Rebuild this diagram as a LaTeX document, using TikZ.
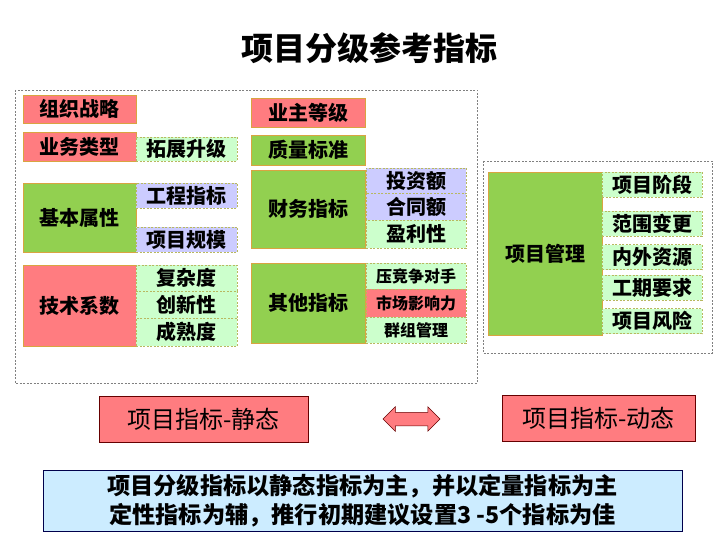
\documentclass[tikz,border=0pt]{standalone}
\usepackage{fontspec}
\newfontfamily\cjk{Noto Sans CJK SC}
\usetikzlibrary{shapes.arrows}

\definecolor{redbox}{HTML}{FF7C80}
\definecolor{greenbox}{HTML}{92D050}
\definecolor{lightgreen}{HTML}{CCFFCC}
\definecolor{lavender}{HTML}{CCCCFF}
\definecolor{mainedge}{HTML}{D9A441}
\definecolor{subedge}{HTML}{B8B860}
\definecolor{noteblue}{HTML}{CCECFF}

\begin{document}
\begin{tikzpicture}[x=1pt,y=-1pt,
    main/.style={draw=mainedge, line width=0.6pt, inner sep=0pt,
        font=\cjk\bfseries\fontsize{20}{24}\selectfont},
    sub/.style={draw=subedge, line width=0.6pt, dash pattern=on 2pt off 1.5pt,
        inner sep=0pt, font=\cjk\bfseries\fontsize{20}{24}\selectfont},
    small/.style={font=\cjk\bfseries\fontsize{16}{19}\selectfont},
    colA/.style={minimum width=113pt},
    colB/.style={minimum width=101pt},
    colC/.style={minimum width=114pt},
    colD/.style={minimum width=100pt},
    frame/.style={draw=gray, line width=0.8pt, dash pattern=on 2pt off 1.5pt},
    kind/.style={draw=red!40!black, line width=0.6pt, fill=redbox, inner sep=0pt,
        minimum height=46pt, font=\cjk\fontsize{24}{28}\selectfont}
    ]
    \useasboundingbox (0,0) rectangle (720,540);

    \node (title) at (369.5,48) {\cjk\bfseries\fontsize{32}{38}\selectfont 项目分级参考指标};

    % static part
    \draw[frame] (15,90) rectangle (477,383);

    \node[main, colA, fill=redbox,   minimum height=28pt] (org)   at (79.5,109)   {组织战略};
    \node[main, colA, fill=redbox,   minimum height=29pt] (biz)   at (79.5,146.5) {业务类型};
    \node[main, colA, fill=greenbox, minimum height=69pt] (basic) at (79.5,217.5) {基本属性};
    \node[main, colA, fill=redbox,   minimum height=81pt] (tech)  at (79.5,305.5) {技术系数};

    \node[sub, colB, fill=lightgreen, minimum height=24pt] (expand) at (186.5,149)   {拓展升级};
    \node[sub, colB, fill=lavender,   minimum height=25pt] (eng)    at (186.5,195.5) {工程指标};
    \node[sub, colB, fill=lavender,   minimum height=25pt] (scale)  at (186.5,239.5) {项目规模};
    \node[sub, colB, fill=lightgreen, minimum height=26pt] (cplx)   at (186.5,278)   {复杂度};
    \node[sub, colB, fill=lightgreen, minimum height=27pt] (innov)  at (186.5,304.5) {创新性};
    \node[sub, colB, fill=lightgreen, minimum height=28pt] (mature) at (186.5,332)   {成熟度};

    \node[main, colC, fill=redbox,   minimum height=29pt] (owner)   at (308,112.5) {业主等级};
    \node[main, colC, fill=greenbox, minimum height=30pt] (quality) at (308,150)   {质量标准};
    \node[main, colC, fill=greenbox, minimum height=78pt] (fin)     at (308,209)   {财务指标};
    \node[main, colC, fill=greenbox, minimum height=80pt] (other)   at (308,303)   {其他指标};

    \node[sub, colD, fill=lavender,   minimum height=25pt] (invest)   at (416,180.5) {投资额};
    \node[sub, colD, fill=lavender,   minimum height=27pt] (contract) at (416,206.5) {合同额};
    \node[sub, colD, fill=lightgreen, minimum height=28pt] (profit)   at (416,234)   {盈利性};
    \node[sub, small, colD, fill=lightgreen, minimum height=26pt] (rival)  at (416,276) {压竞争对手};
    \node[sub, small, colD, fill=redbox,     minimum height=28pt] (market) at (416,303) {市场影响力};
    \node[sub, small, colD, fill=lightgreen, minimum height=26pt] (group)  at (416,330) {群组管理};

    % dynamic part
    \draw[frame] (483,161) rectangle (712,353);

    \node[main, colC, fill=greenbox, minimum height=163pt] (pm) at (545,253.5) {项目管理};
    \foreach \name/\y/\txt in {stage/184.5/项目阶段, change/223.5/范围变更,
        res/257/内外资源, period/287.5/工期要求, risk/321/项目风险}
        \node[sub, colD, fill=lightgreen, minimum height=25pt] (\name) at (652,\y) {\txt};

    \node[kind, minimum width=209pt] (static)  at (203.5,419.5) {项目指标-静态};
    \node[kind, minimum width=193pt] (dynamic) at (598.5,418.5) {项目指标-动态};
    \node[double arrow, draw=red!40!black, fill=redbox, line width=0.5pt,
        inner sep=6.5pt, minimum height=57pt, minimum width=24pt,
        double arrow head extend=5.5pt, double arrow head indent=0pt] (swap) at (411.5,419) {};

    \node[draw=black!70!blue, line width=0.8pt, fill=noteblue,
        minimum width=639pt, minimum height=61pt, align=center,
        font=\cjk\bfseries\fontsize{23.2}{29}\selectfont] (note) at (362.5,500.5)
        {项目分级指标以静态指标为主，并以定量指标为主\\定性指标为辅，推行初期建议设置3 -5个指标为佳};
\end{tikzpicture}
\end{document}
